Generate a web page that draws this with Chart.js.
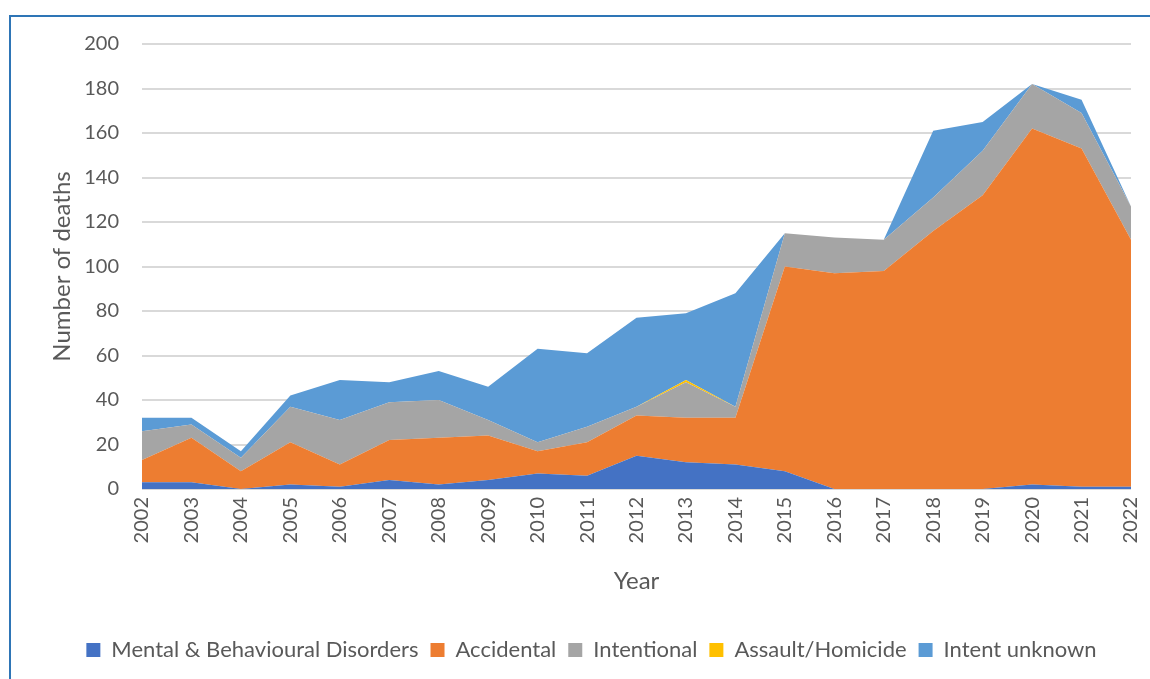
<!DOCTYPE html>
<html>
<head>
<meta charset="utf-8">
<script src="https://cdn.jsdelivr.net/npm/chart.js@4.4.1/dist/chart.umd.min.js"></script>
<style>
  html, body { margin: 0; padding: 0; background: #fff; overflow: hidden; }
  #wrap { position: relative; width: 1150px; height: 679px; }
  #frame {
    position: absolute; left: 9px; top: 15px; width: 1200px; height: 700px;
    border-left: 2px solid #2e75b6; border-top: 2px solid #2e75b6;
  }
  #grafico { position: absolute; left: 0; top: 0; }
</style>
</head>
<body>
<div id="wrap">
  <div id="frame"></div>
  <canvas id="grafico" width="1150" height="679"></canvas>
</div>
<script>
const years = ['2002', '2003', '2004', '2005', '2006', '2007', '2008', '2009', '2010', '2011',
               '2012', '2013', '2014', '2015', '2016', '2017', '2018', '2019', '2020', '2021', '2022'];

// deaths per year by cause
const mentalDisorders = [3, 3, 0, 2, 1, 4, 2, 4, 7, 6, 15, 12, 11, 8, 0, 0, 0, 0, 2, 1, 1];
const accidental      = [10, 20, 8, 19, 10, 18, 21, 20, 10, 15, 18, 20, 21, 92, 97, 98, 116, 132, 160, 152, 111];
const intentional     = [13, 6, 6, 16, 20, 17, 17, 7, 4, 7, 4, 16, 5, 15, 16, 14, 15, 20, 20, 16, 15];
const assault         = [0, 0, 0, 0, 0, 0, 0, 0, 0, 0, 0, 1, 0, 0, 0, 0, 0, 0, 0, 0, 0];
const intentUnknown   = [6, 3, 3, 5, 18, 9, 13, 15, 42, 33, 40, 30, 51, 0, 0, 0, 30, 13, 0, 6, 0];

const yTicks = [0, 20, 40, 60, 80, 100, 120, 140, 160, 180, 200];

const textColor = '#595959';
const fontFamily = 'Lato, "Open Sans", sans-serif';

function area(label, data, color, fill) {
    return {
        label: label,
        data: data,
        backgroundColor: color,
        borderColor: color,
        borderWidth: 0,
        pointRadius: 0,
        pointHoverRadius: 0,
        tension: 0,
        fill: fill
    };
}

const ctx = document.getElementById('grafico').getContext('2d');
new Chart(ctx, {
    type: 'line',
    data: {
        labels: years,
        datasets: [
            area('Mental & Behavioural Disorders', mentalDisorders, '#4472c4', 'origin'),
            area('Accidental', accidental, '#ed7d31', '-1'),
            area('Intentional', intentional, '#a5a5a5', '-1'),
            area('Assault/Homicide', assault, '#ffc000', '-1'),
            area('Intent unknown', intentUnknown, '#5b9bd5', '-1')
        ]
    },
    options: {
        responsive: false,
        animation: false,
        layout: {
            padding: { left: 52, right: 19, top: 44, bottom: 8 }
        },
        plugins: {
            tooltip: { enabled: false },
            legend: {
                position: 'bottom',
                labels: {
                    color: textColor,
                    font: { family: fontFamily, size: 22 },
                    boxWidth: 14,
                    boxHeight: 14,
                    padding: 12
                }
            }
        },
        scales: {
            x: {
                offset: false,
                grid: { display: false, drawTicks: false },
                border: { display: false },
                ticks: {
                    color: textColor,
                    font: { family: fontFamily, size: 20 },
                    minRotation: 90,
                    maxRotation: 90,
                    padding: 8
                },
                title: {
                    display: true,
                    text: 'Year',
                    color: textColor,
                    font: { family: fontFamily, size: 24 },
                    padding: { top: 4, bottom: 31 }
                },
                afterFit: function (scale) {
                    scale.height = 138;
                    scale.paddingLeft = 0;
                    scale.paddingRight = 0;
                }
            },
            y: {
                stacked: true,
                min: 0,
                max: 200,
                afterBuildTicks: function (scale) {
                    scale.ticks = yTicks.map(v => ({ value: v }));
                },
                grid: { color: '#d9d9d9', lineWidth: 2, drawTicks: false },
                border: { display: false },
                ticks: {
                    color: textColor,
                    font: { family: fontFamily, size: 20 },
                    padding: 23
                },
                title: {
                    display: true,
                    text: 'Number of deaths',
                    color: textColor,
                    font: { family: fontFamily, size: 24 },
                    padding: { top: -4, bottom: 4 }
                },
                afterFit: function (scale) { scale.width = 90; }
            }
        }
    }
});
</script>
</body>
</html>
